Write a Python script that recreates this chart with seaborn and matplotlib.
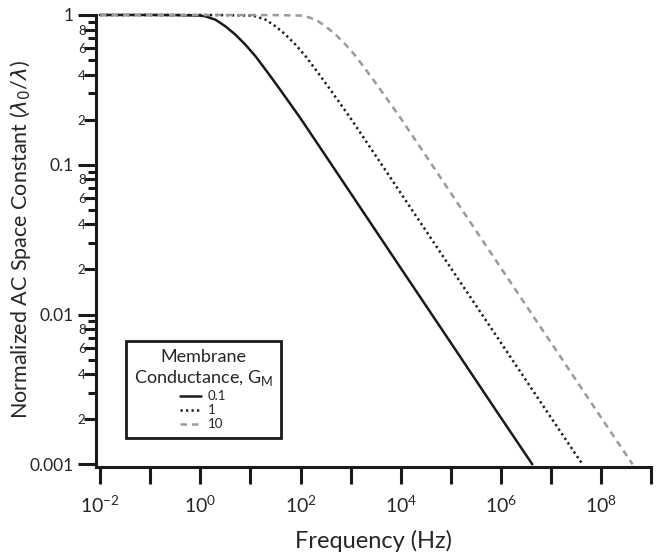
import numpy as np
import pandas as pd
import seaborn as sns
import matplotlib.pyplot as plt
from matplotlib.ticker import FixedLocator, FixedFormatter, FuncFormatter, NullLocator

# values (frequency in Hz, normalized space constant)
gm_levels = ['0.1', '1', '10']

freq_gm01 = [0.01, 0.1, 0.316, 1, 1.26, 2.0, 3.16, 5.01, 7.94, 12.6, 20.0, 31.6, 56.2,
             100, 316, 1e3, 1e4, 1e5, 1e6, 4.2e6]
lam_gm01 = [1.0, 1.0, 0.998, 0.991, 0.980, 0.931, 0.841, 0.740, 0.634, 0.531, 0.432,
            0.351, 0.268, 0.204, 0.115, 0.0646, 0.0204, 0.00646, 0.00204, 0.001]

freq_gm1 = [0.01, 1, 3.16, 10, 12.6, 20.0, 31.6, 50.1, 79.4, 126, 200, 316, 562,
            1000, 3160, 1e4, 1e5, 1e6, 1e7, 4.2e7]
lam_gm1 = [1.0, 1.0, 0.998, 0.991, 0.980, 0.931, 0.841, 0.740, 0.634, 0.531, 0.432,
           0.351, 0.268, 0.204, 0.115, 0.0646, 0.0204, 0.00646, 0.00204, 0.001]

freq_gm10 = [0.01, 1, 31.6, 100, 126, 200, 316, 501, 794, 1260, 2000, 3160, 5620,
             1e4, 3.16e4, 1e5, 1e6, 1e7, 1e8, 4.2e8]
lam_gm10 = [1.0, 1.0, 0.998, 0.991, 0.980, 0.931, 0.841, 0.740, 0.634, 0.531, 0.432,
            0.351, 0.268, 0.204, 0.115, 0.0646, 0.0204, 0.00646, 0.00204, 0.001]

y_major = [0.001, 0.01, 0.1, 1]
y_major_labels = ['0.001', '0.01', '0.1', '1']
x_exponents = list(range(-2, 10))

df = pd.concat([
    pd.DataFrame({'freq': freq_gm01, 'lam': lam_gm01, 'GM': '0.1'}),
    pd.DataFrame({'freq': freq_gm1, 'lam': lam_gm1, 'GM': '1'}),
    pd.DataFrame({'freq': freq_gm10, 'lam': lam_gm10, 'GM': '10'}),
])

sns.set_style('ticks')
plt.rcParams['font.family'] = ['Lato', 'DejaVu Sans']
plt.rcParams['mathtext.fontset'] = 'dejavusans'

fig = plt.figure(figsize=(6.56, 5.53), dpi=100)
ax = fig.add_axes([0.1463, 0.1555, 0.8468, 0.8174])

sns.lineplot(data=df, x='freq', y='lam', hue='GM', style='GM', hue_order=gm_levels,
             style_order=gm_levels,
             palette={'0.1': '#1a1a1a', '1': '#1a1a1a', '10': '#9a9a9a'},
             dashes={'0.1': '', '1': (0.9, 1.3), '10': (2.6, 2.0)},
             linewidth=1.8, sort=False, estimator=None, ax=ax)
for ln in ax.get_lines():
    ln.set_clip_on(False)

ax.set_xscale('log')
ax.set_yscale('log')
ax.set_xlim(10 ** -2.08, 1e9)
ax.set_ylim(10 ** -3.018, 1)

# x ticks: every decade, label the even ones
ax.xaxis.set_major_locator(FixedLocator([10.0 ** e for e in x_exponents]))
ax.xaxis.set_major_formatter(FuncFormatter(
    lambda v, p: r'$\mathregular{10^{%d}}$' % round(np.log10(v)) if round(np.log10(v)) % 2 == 0 else ''))
ax.xaxis.set_minor_locator(NullLocator())
ax.tick_params(axis='x', which='major', direction='out', length=12, width=2.2,
               labelsize=14, pad=8, color='#1a1a1a')

# y ticks
ax.yaxis.set_major_locator(FixedLocator(y_major))
ax.yaxis.set_major_formatter(FixedFormatter(y_major_labels))
y_minor = [d * m for d in y_major[:-1] for m in range(2, 10)]
y_minor_labels = [str(m) if m % 2 == 0 else '' for d in y_major[:-1] for m in range(2, 10)]
ax.yaxis.set_minor_locator(FixedLocator(y_minor))
ax.yaxis.set_minor_formatter(FixedFormatter(y_minor_labels))
ax.tick_params(axis='y', which='major', direction='out', length=13, width=2.2,
               labelsize=12.5, pad=3, color='#1a1a1a')
ax.tick_params(axis='y', which='minor', direction='out', length=5.5, width=2.2,
               labelsize=9.5, pad=2, color='#1a1a1a')

sns.despine(ax=ax)
for side in ['left', 'bottom']:
    ax.spines[side].set_linewidth(2.2)
    ax.spines[side].set_color('#1a1a1a')

ax.set_xlabel('Frequency (Hz)', fontsize=17, labelpad=10)
ax.set_ylabel(r'Normalized AC Space Constant ($\lambda_0$/$\lambda$)', fontsize=15.5)
ax.yaxis.set_label_coords(-0.113, 0.504)

handles, labels = ax.get_legend_handles_labels()
leg = ax.legend(handles, labels, title='Membrane\nConductance, G$_\\mathregular{M}$',
                loc='lower left', bbox_to_anchor=(0.054, 0.064), borderaxespad=0,
                fontsize=9.5, title_fontsize=13, handlelength=1.6, handletextpad=0.5,
                labelspacing=0.15, borderpad=0.6, fancybox=False, framealpha=1,
                edgecolor='#1a1a1a')
leg.get_frame().set_linewidth(2)
leg.get_title().set_multialignment('center')

fig.canvas.draw()
for t in ax.yaxis.get_minor_ticks():
    v = t.get_loc()
    if v is not None:
        m = round(v / 10 ** np.floor(np.log10(v) + 1e-9))
        if m % 2 == 0:
            t.tick1line.set_markersize(8.5)

fig.savefig('out.png', dpi=100)
